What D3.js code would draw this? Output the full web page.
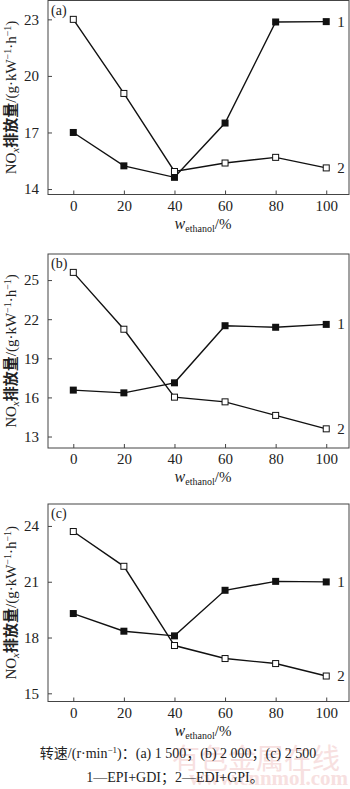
<!DOCTYPE html>
<html>
<head>
<meta charset="utf-8">
<script src="https://cdn.jsdelivr.net/npm/d3@7"></script>
<style>
  body { margin: 0; background: #fff; }
  svg { display: block; }
</style>
</head>
<body>
<div id="chart"></div>
<script>
// ethanol mass fraction, %
var xValues = [0, 20, 40, 60, 80, 100];
var xTicks = [0, 20, 40, 60, 80, 100];

// (a) 1 500 r/min
var seriesA1 = [17.0, 15.23, 14.62, 17.5, 22.86, 22.88];
var seriesA2 = [23.0, 19.07, 14.93, 15.38, 15.68, 15.12];
var ticksA = [14, 17, 20, 23];

// (b) 2 000 r/min
var seriesB1 = [16.56, 16.35, 17.12, 21.5, 21.38, 21.6];
var seriesB2 = [25.59, 21.23, 16.02, 15.66, 14.62, 13.59];
var ticksB = [13, 16, 19, 22, 25];

// (c) 2 500 r/min
var seriesC1 = [19.29, 18.34, 18.09, 20.54, 21.02, 20.99];
var seriesC2 = [23.7, 21.83, 17.57, 16.87, 16.6, 15.93];
var ticksC = [15, 18, 21, 24];

var serif = "'Liberation Serif', 'Times New Roman', serif";
var cjk = "'Liberation Serif', 'Noto Sans CJK SC', serif";

var W = 350, H = 789;
var svg = d3.select("#chart").append("svg")
    .attr("width", W)
    .attr("height", H);

var left = 48, right = 349;

var panels = [
  { tag: "(a)", s1: seriesA1, s2: seriesA2, ticks: ticksA, top: 0.5, bottom: 194.5, yDomain: [13.71, 24] },
  { tag: "(b)", s1: seriesB1, s2: seriesB2, ticks: ticksB, top: 254, bottom: 448, yDomain: [12.12, 27] },
  { tag: "(c)", s1: seriesC1, s2: seriesC2, ticks: ticksC, top: 504, bottom: 701.5, yDomain: [14.56, 25.18] }
];

var x = d3.scaleLinear().domain([-10, 109]).range([left, right]);

// watermark (drawn first, under everything)
svg.append("text")
  .attr("x", 172).attr("y", 769)
  .style("font-family", "'Noto Sans CJK SC'").style("font-size", "28px")
  .attr("fill", "#f7e0e0").text("有色金属在线");
svg.append("text")
  .attr("x", 348).attr("y", 785).attr("text-anchor", "end")
  .style("font-family", serif).style("font-size", "21px").style("font-weight", "bold")
  .attr("fill", "#f7e0e0").text("www.cnnmol.com");

panels.forEach(function (p) {
  var y = d3.scaleLinear().domain(p.yDomain).range([p.bottom, p.top]);
  var g = svg.append("g");

  // frame
  g.append("rect")
    .attr("x", left).attr("y", p.top)
    .attr("width", right - left).attr("height", p.bottom - p.top)
    .attr("fill", "none").attr("stroke", "#444").attr("stroke-width", 1);

  // y axis, ticks inside
  var yAxis = g.append("g")
    .attr("transform", "translate(" + left + ",0)")
    .call(d3.axisRight(y).tickValues(p.ticks).tickSize(4).tickFormat(d3.format("d")));
  yAxis.select(".domain").remove();
  yAxis.selectAll("line").attr("stroke", "#444");
  yAxis.selectAll("text")
    .attr("x", -9).attr("text-anchor", "end")
    .style("font-family", serif).style("font-size", "15px").attr("fill", "#222");

  // x axis, ticks inside
  var xAxis = g.append("g")
    .attr("transform", "translate(0," + p.bottom + ")")
    .call(d3.axisTop(x).tickValues(xTicks).tickSize(4).tickFormat(d3.format("d")));
  xAxis.select(".domain").remove();
  xAxis.selectAll("line").attr("stroke", "#444");
  xAxis.selectAll("text")
    .attr("y", 16).attr("dy", "0")
    .style("font-family", serif).style("font-size", "15px").attr("fill", "#222");

  // panel tag
  g.append("text")
    .attr("x", 51).attr("y", p.top + 14)
    .style("font-family", serif).style("font-size", "14px").attr("fill", "#222")
    .text(p.tag);

  // x title
  var xt = g.append("text")
    .attr("x", 203).attr("y", p.bottom + 34)
    .attr("text-anchor", "middle")
    .style("font-family", serif).attr("fill", "#222");
  xt.append("tspan").style("font-style", "italic").style("font-size", "16px").text("w");
  xt.append("tspan").attr("dy", 3).style("font-size", "10px").text("ethanol");
  xt.append("tspan").attr("dy", -3).style("font-size", "15px").text("/%");

  // y title
  var ymid = (p.top + p.bottom) / 2;
  var yt = g.append("text")
    .attr("transform", "translate(16," + ymid + ") rotate(-90)")
    .attr("text-anchor", "middle")
    .style("font-family", cjk).style("font-size", "15px").attr("fill", "#222");
  yt.append("tspan").text("NO");
  yt.append("tspan").attr("dy", 3).style("font-style", "italic").style("font-size", "11px").text("x");
  yt.append("tspan").attr("dy", -3).style("font-family", "'Noto Sans CJK SC'").style("font-weight", "bold").text("排放量");
  yt.append("tspan").text("/(g\u00b7kW");
  yt.append("tspan").attr("dy", -5).style("font-size", "10px").text("\u22121");
  yt.append("tspan").attr("dy", 5).text("\u00b7h");
  yt.append("tspan").attr("dy", -5).style("font-size", "10px").text("\u22121");
  yt.append("tspan").attr("dy", 5).text(")");

  var line = d3.line().x(function (d, i) { return x(xValues[i]); }).y(function (d) { return y(d); });

  [p.s2, p.s1].forEach(function (s) {
    g.append("path").datum(s)
      .attr("d", line).attr("fill", "none")
      .attr("stroke", "#111").attr("stroke-width", 1.4);
  });

  // series 1: filled squares
  g.selectAll(".m1").data(p.s1).enter().append("rect")
    .attr("x", function (d, i) { return x(xValues[i]) - 3.5; })
    .attr("y", function (d) { return y(d) - 3.5; })
    .attr("width", 7).attr("height", 7)
    .attr("fill", "#111");

  // series 2: open squares
  g.selectAll(".m2").data(p.s2).enter().append("rect")
    .attr("x", function (d, i) { return x(xValues[i]) - 3; })
    .attr("y", function (d) { return y(d) - 3; })
    .attr("width", 6).attr("height", 6)
    .attr("fill", "#fff").attr("stroke", "#111").attr("stroke-width", 1);

  // series labels
  [[p.s1, "1"], [p.s2, "2"]].forEach(function (a) {
    g.append("text")
      .attr("x", x(100) + 11).attr("y", y(a[0][a[0].length - 1]) + 5)
      .style("font-family", serif).style("font-size", "15px").attr("fill", "#222")
      .text(a[1]);
  });
});

// caption
var c1 = svg.append("text")
  .attr("x", 178).attr("y", 758).attr("text-anchor", "middle")
  .style("font-family", cjk).style("font-size", "14px").attr("fill", "#222");
c1.append("tspan").text("转速/(r\u00b7min");
c1.append("tspan").attr("dy", -5).style("font-size", "9px").text("\u22121");
c1.append("tspan").attr("dy", 5).text(")：(a) 1 500；(b) 2 000；(c) 2 500");

svg.append("text")
  .attr("x", 175).attr("y", 782).attr("text-anchor", "middle")
  .style("font-family", cjk).style("font-size", "14px").attr("fill", "#222")
  .text("1—EPI+GDI；2—EDI+GPI。");
</script>
</body>
</html>
